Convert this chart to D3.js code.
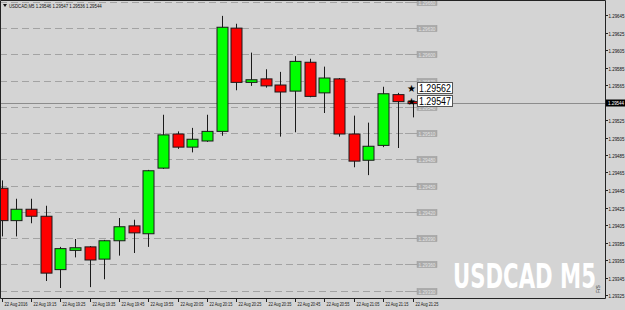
<!DOCTYPE html>
<html>
<head>
<meta charset="utf-8">
<script src="https://cdn.jsdelivr.net/npm/d3@7"></script>
<style>
  html, body { margin: 0; padding: 0; background: #d4d4d4; }
  svg { display: block; font-family: "Liberation Sans", Arial, sans-serif; }
</style>
</head>
<body>
<div id="chart"></div>
<script>
// USDCAD M5 candles, 22 Aug 2016 19:05 .. 21:25
const opens  = [1.29447, 1.29410, 1.29423, 1.29415, 1.29354, 1.29376, 1.29380, 1.29366, 1.29387, 1.29404,
                1.29395, 1.29470, 1.29509, 1.29494, 1.29501, 1.29512, 1.29630, 1.29568, 1.29572, 1.29565,
                1.29558, 1.29591, 1.29556, 1.29572, 1.29509, 1.29479, 1.29496, 1.29554, 1.29546];
const highs  = [1.29456, 1.29435, 1.29435, 1.29427, 1.29380, 1.29389, 1.29381, 1.29388, 1.29413, 1.29411,
                1.29468, 1.29531, 1.29512, 1.29516, 1.29531, 1.29644, 1.29635, 1.29602, 1.29583, 1.29580,
                1.29598, 1.29595, 1.29586, 1.29573, 1.29530, 1.29522, 1.29563, 1.29556, 1.29547];
const lows   = [1.29392, 1.29392, 1.29407, 1.29341, 1.29333, 1.29368, 1.29334, 1.29343, 1.29370, 1.29373,
                1.29380, 1.29469, 1.29492, 1.29488, 1.29500, 1.29507, 1.29559, 1.29564, 1.29562, 1.29506,
                1.29511, 1.29551, 1.29533, 1.29506, 1.29471, 1.29462, 1.29494, 1.29493, 1.29528];
const closes = [1.29410, 1.29423, 1.29415, 1.29350, 1.29378, 1.29379, 1.29365, 1.29387, 1.29403, 1.29396,
                1.29467, 1.29508, 1.29494, 1.29503, 1.29512, 1.29631, 1.29568, 1.29571, 1.29564, 1.29557,
                1.29592, 1.29552, 1.29573, 1.29509, 1.29478, 1.29495, 1.29555, 1.29546, 1.29544];

const timeLabels = ['22 Aug 2016', '22 Aug 19:15', '22 Aug 19:25', '22 Aug 19:35', '22 Aug 19:45',
                    '22 Aug 19:55', '22 Aug 20:05', '22 Aug 20:15', '22 Aug 20:25', '22 Aug 20:35',
                    '22 Aug 20:45', '22 Aug 20:55', '22 Aug 21:05', '22 Aug 21:15', '22 Aug 21:25'];
const priceTicks = [1.29645, 1.29625, 1.29605, 1.29585, 1.29565, 1.29525, 1.29505, 1.29485, 1.29465,
                    1.29445, 1.29425, 1.29405, 1.29385, 1.29365, 1.29345, 1.29325];
const levels = [1.29660, 1.29630, 1.29600, 1.29570, 1.29540, 1.29510, 1.29480, 1.29450, 1.29420,
                1.29390, 1.29360, 1.29330];
const markers = [1.29562, 1.29547];
const bidPrice = 1.29544;
const header = 'USDCAD,M5  1.29546 1.29547 1.29536 1.29544';

const width = 625, height = 310;
const plotRight = 605, plotBottom = 298;

const svg = d3.select('#chart').append('svg')
    .attr('width', width)
    .attr('height', height);

svg.append('rect').attr('width', width).attr('height', height).attr('fill', '#d4d4d4');

const x = d3.scaleLinear().domain([0, 28]).range([1.5, 412.5]);
const y = d3.scaleLinear().domain([1.29325, 1.29645]).range([295, 15]);

const candles = opens.map((o, i) => ({ i, o, h: highs[i], l: lows[i], c: closes[i] }));

// squeezed small text, MT4 style: measure then scale horizontally to width w
function tinyText(parent, tx, ty, str, w, fill, size) {
    const t = parent.append('text')
        .attr('font-size', (size || 6) + 'px')
        .attr('fill', fill || '#111')
        .text(str);
    const len = t.node().getComputedTextLength() || w;
    t.attr('transform', `translate(${tx},${ty}) scale(${w / len},1)`);
    return t;
}

// Dashed level lines with little gray price tags
const lvl = svg.append('g');
levels.forEach(v => {
    const yy = Math.round(y(v)) + 0.5;
    lvl.append('line')
        .attr('x1', 0).attr('x2', 405).attr('y1', yy).attr('y2', yy)
        .attr('stroke', '#a3a3a3').attr('stroke-width', 1)
        .attr('stroke-dasharray', '7,4');
    lvl.append('line')
        .attr('x1', 405).attr('x2', 418).attr('y1', yy).attr('y2', yy)
        .attr('stroke', '#a3a3a3');
    lvl.append('rect')
        .attr('x', 417).attr('y', yy - 3).attr('width', 20).attr('height', 6)
        .attr('fill', '#aaaaaa').attr('stroke', '#9a9a9a').attr('stroke-width', 0.5);
    tinyText(lvl, 418.5, yy + 2, v.toFixed(5), 17, '#e4e4e4', 5);
});

// Bid line
svg.append('line')
    .attr('x1', 0).attr('x2', plotRight)
    .attr('y1', Math.round(y(bidPrice)) + 0.5).attr('y2', Math.round(y(bidPrice)) + 0.5)
    .attr('stroke', '#8c8c8c');

// Candles
const bodyW = 11;
const g = svg.append('g');
g.selectAll('.wick')
    .data(candles)
    .enter()
    .append('line')
    .attr('class', 'wick')
    .attr('x1', d => Math.round(x(d.i)) + 0.5)
    .attr('x2', d => Math.round(x(d.i)) + 0.5)
    .attr('y1', d => y(d.h))
    .attr('y2', d => y(d.l))
    .attr('stroke', '#1a1a1a');

g.selectAll('.body')
    .data(candles)
    .enter()
    .append('rect')
    .attr('class', 'body')
    .attr('x', d => Math.round(x(d.i)) - bodyW / 2 + 0.5)
    .attr('y', d => y(Math.max(d.o, d.c)))
    .attr('width', bodyW)
    .attr('height', d => Math.max(2, Math.abs(y(d.o) - y(d.c))))
    .attr('fill', d => d.c >= d.o ? '#00ff00' : '#ff0000')
    .attr('stroke', '#1a1a1a')
    .attr('stroke-width', 1);

// Marked prices with stars
markers.forEach(v => {
    const yy = y(v);
    svg.append('text')
        .attr('x', 411).attr('y', yy + 4)
        .attr('text-anchor', 'middle')
        .attr('font-size', '10px').attr('fill', '#000')
        .text('\u2605');
    svg.append('rect')
        .attr('x', 417.5).attr('y', Math.round(yy) - 5.5).attr('width', 35).attr('height', 11)
        .attr('fill', '#ffffff').attr('stroke', '#555').attr('stroke-width', 1);
    tinyText(svg, 419, Math.round(yy) + 4, v.toFixed(5), 32, '#000', 11);
});

// Frame
svg.append('path')
    .attr('d', `M0.5,0.5 H${plotRight + 0.5} V${plotBottom + 0.5} H0.5 Z`)
    .attr('fill', 'none').attr('stroke', '#222');

// Right price axis
const ax = svg.append('g');
priceTicks.forEach(v => {
    const yy = Math.round(y(v)) + 0.5;
    ax.append('line')
        .attr('x1', plotRight).attr('x2', plotRight + 3).attr('y1', yy).attr('y2', yy)
        .attr('stroke', '#222');
    tinyText(ax, plotRight + 3.5, yy + 2, v.toFixed(5), 16, '#111', 6);
});
const by = Math.round(y(bidPrice));
ax.append('rect')
    .attr('x', plotRight + 1).attr('y', by - 3.5).attr('width', 19).attr('height', 7)
    .attr('fill', '#000');
tinyText(ax, plotRight + 3, by + 2, bidPrice.toFixed(5), 16, '#fff', 6);

// Bottom time axis
timeLabels.forEach((t, k) => {
    const xx = Math.round(x(k * 2)) + 0.5;
    svg.append('line')
        .attr('x1', xx).attr('x2', xx).attr('y1', plotBottom).attr('y2', plotBottom + 4)
        .attr('stroke', '#222');
    tinyText(svg, xx + 2, plotBottom + 8, t, 23, '#111', 6);
});

// Header
svg.append('path')
    .attr('d', 'M3,4 L7,4 L5,7 Z')
    .attr('fill', '#111');
tinyText(svg, 9, 8, header, 93, '#111', 6);

// Watermark
const wm = svg.append('text')
    .attr('font-family', '"Liberation Sans Narrow", "DejaVu Sans Condensed", sans-serif')
    .attr('font-weight', 'bold')
    .attr('font-size', '34px')
    .attr('fill', '#ffffff')
    .text('USDCAD M5');
const wmLen = wm.node().getComputedTextLength() || 143;
wm.attr('transform', `translate(453,288) scale(${143 / wmLen},1)`);

// Fixed-scale marker
svg.append('text')
    .attr('transform', 'translate(600,293) rotate(-90)')
    .attr('font-size', '5px').attr('fill', '#333')
    .text('F/S');
</script>
</body>
</html>
